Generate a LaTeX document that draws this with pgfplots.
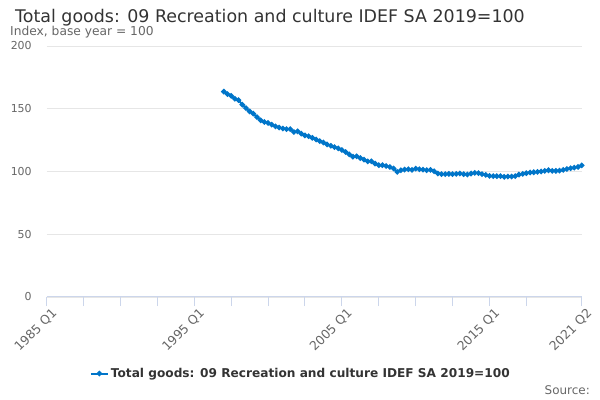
\documentclass[border=0pt]{standalone}
\usepackage{pgfplots}
\pgfplotsset{compat=1.18}
\usepackage{pgfplotstable}
\usepackage{fontspec}
\setmainfont{DejaVu Sans}
\definecolor{titlec}{HTML}{333333}
\definecolor{labc}{HTML}{666666}
\definecolor{gridc}{HTML}{E6E6E6}
\definecolor{axc}{HTML}{CCD6EB}
\definecolor{serc}{HTML}{0075C9}
\pgfplotstableread{
x y
1997.00 163.7
1997.25 161.6
1997.50 160.3
1997.75 157.9
1998.00 156.9
1998.25 153.2
1998.50 150.5
1998.75 147.9
1999.00 146.1
1999.25 143.4
1999.50 140.8
1999.75 139.5
2000.00 138.7
2000.25 137.4
2000.50 136.0
2000.75 135.0
2001.00 134.2
2001.25 133.7
2001.50 133.7
2001.75 131.5
2002.00 132.0
2002.25 130.2
2002.50 128.7
2002.75 128.1
2003.00 126.8
2003.25 125.5
2003.50 124.2
2003.75 123.1
2004.00 121.6
2004.25 120.5
2004.50 119.4
2004.75 118.4
2005.00 117.1
2005.25 115.5
2005.50 113.7
2005.75 111.8
2006.00 112.1
2006.25 110.7
2006.50 109.5
2006.75 108.1
2007.00 108.1
2007.25 106.3
2007.50 105.0
2007.75 105.0
2008.00 104.4
2008.25 103.6
2008.50 102.4
2008.75 99.7
2009.00 101.0
2009.25 101.5
2009.50 101.8
2009.75 101.3
2010.00 102.3
2010.25 101.8
2010.50 101.5
2010.75 101.0
2011.00 101.3
2011.25 100.2
2011.50 98.4
2011.75 97.9
2012.00 97.9
2012.25 98.1
2012.50 97.9
2012.75 98.1
2013.00 98.4
2013.25 97.9
2013.50 97.6
2013.75 98.4
2014.00 98.9
2014.25 98.7
2014.50 97.9
2014.75 97.3
2015.00 96.5
2015.25 96.3
2015.50 96.3
2015.75 96.3
2016.00 95.8
2016.25 96.0
2016.50 96.0
2016.75 96.3
2017.00 97.6
2017.25 98.1
2017.50 98.7
2017.75 99.2
2018.00 99.4
2018.25 99.7
2018.50 100.0
2018.75 100.5
2019.00 101.0
2019.25 100.5
2019.50 100.5
2019.75 100.7
2020.00 101.3
2020.25 102.0
2020.50 102.6
2020.75 103.1
2021.00 103.6
2021.25 104.9
}\datatable
\begin{document}
\begin{tikzpicture}
\useasboundingbox (0,0) rectangle (600bp,400bp);
\node[text=titlec, font=\fontsize{17.5}{20}\selectfont] at (270bp,382bp) {Total goods: 09 Recreation and culture IDEF SA 2019=100};
\node[text=labc, anchor=west, inner sep=0pt, font=\fontsize{12.3}{14}\selectfont] at (10bp,368bp) {Index, base year = 100};
\node[text=labc, anchor=east, inner sep=0pt, font=\fontsize{12}{14}\selectfont] at (590bp,10bp) {Source:};
\begin{axis}[
  at={(46.7bp,103bp)}, anchor=south west,
  scale only axis, width=535bp, height=251bp,
  xmin=1985, xmax=2021.25, ymin=0, ymax=200,
  axis y line*=left, axis x line*=bottom,
  y axis line style={draw=none},
  x axis line style={draw=axc, line width=1bp},
  ytick={0,50,100,150,200},
  ymajorgrids, grid style={draw=gridc, line width=0.8bp},
  ytick style={draw=none},
  xtick={1985,1995,2005,2015,2021.25},
  xticklabels={1985 Q1,1995 Q1,2005 Q1,2015 Q1,2021 Q2},
  minor xtick={1987.5,1990,1992.5,1997.5,2000,2002.5,2007.5,2010,2012.5,2017.5},
  tick align=outside, major tick length=9bp, minor tick length=9bp,
  xtick style={draw=axc, line width=1bp},
  minor x tick style={draw=axc, line width=1bp},
  /pgf/number format/assume math mode=true,
  yticklabel style={text=labc, font=\fontsize{11}{13}\selectfont, xshift=-2.5bp},
  xticklabel style={text=labc, font=\fontsize{12.5}{14}\selectfont, rotate=45, anchor=north east, inner sep=1bp, yshift=-3bp, xshift=3bp},
  legend style={at={(0.475,-0.305)}, anchor=center, draw=none, fill=none,
    font=\fontsize{12.2}{14}\selectfont\bfseries, text=titlec},
  legend cell align=left,
  clip=false,
]
\addplot[serc, line width=2bp, mark=*, mark size=1.6bp, mark options={fill=serc, draw=serc}] table[x=x,y=y] {\datatable};
\addlegendentry{Total goods: 09 Recreation and culture IDEF SA 2019=100}
\end{axis}
\end{tikzpicture}
\end{document}
